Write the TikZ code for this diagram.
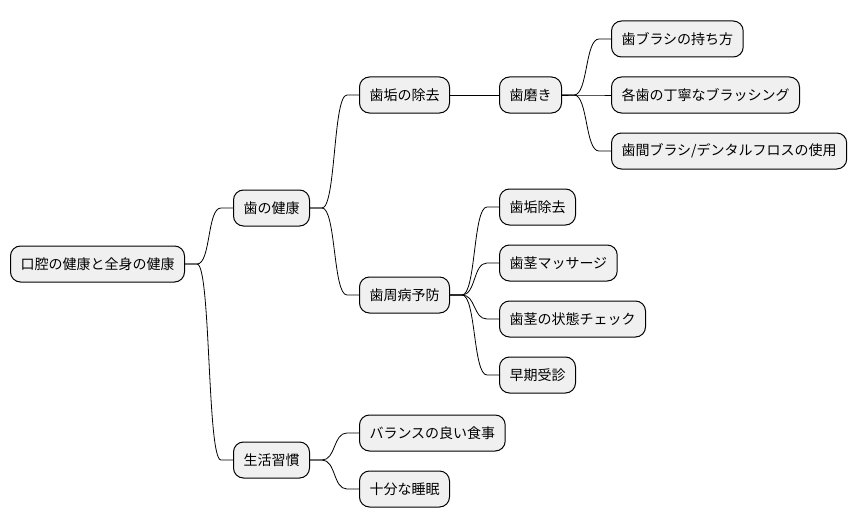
\documentclass[tikz,border=0pt]{standalone}
\usepackage{fontspec}
\setmainfont{Noto Sans CJK JP}
\usetikzlibrary{calc}
\tikzset{
	box/.style = {draw, line width = 1pt, fill = black!6, rounded corners = 10pt, anchor = west,
		minimum height = 36pt, inner xsep = 10pt, font = \fontsize{14}{16}\selectfont},
	branch/.style = {to path = {-- ++(12,0) .. controls +(14,0) and +(-14,0) .. ($(\tikztotarget)+(-12,0)$) -- (\tikztotarget)}}
}
\begin{document}
\begin{tikzpicture}[x = 1pt, y = -1pt, line width = 0.8pt]
			\useasboundingbox (0,0) rectangle (857,527);
			\node[box] (root) at (10,264) {口腔の健康と全身の健康};
			\node[box] (teeth) at (233,208) {歯の健康};
			\node[box] (life) at (233,460) {生活習慣};
			\node[box] (plaque) at (359,95) {歯垢の除去};
			\node[box] (perio) at (359,295) {歯周病予防};
			\node[box] (brush) at (499,95) {歯磨き};
			\node[box] (hold) at (611,39) {歯ブラシの持ち方};
			\node[box] (each) at (611,95) {各歯の丁寧なブラッシング};
			\node[box] (floss) at (611,151) {歯間ブラシ/デンタルフロスの使用};
			\node[box] (remove) at (499,207) {歯垢除去};
			\node[box] (massage) at (499,263) {歯茎マッサージ};
			\node[box] (check) at (499,319) {歯茎の状態チェック};
			\node[box] (visit) at (499,375) {早期受診};
			\node[box] (food) at (359,433) {バランスの良い食事};
			\node[box] (sleep) at (359,489) {十分な睡眠};
			\foreach \a/\b in {root/teeth, root/life, teeth/plaque, teeth/perio,
				brush/hold, brush/each, brush/floss,
				perio/remove, perio/massage, perio/check, perio/visit,
				life/food, life/sleep}{
				\draw (\a.east) to[branch] (\b.west);
			}
			\draw (plaque) -- (brush);
\end{tikzpicture}
\end{document}
